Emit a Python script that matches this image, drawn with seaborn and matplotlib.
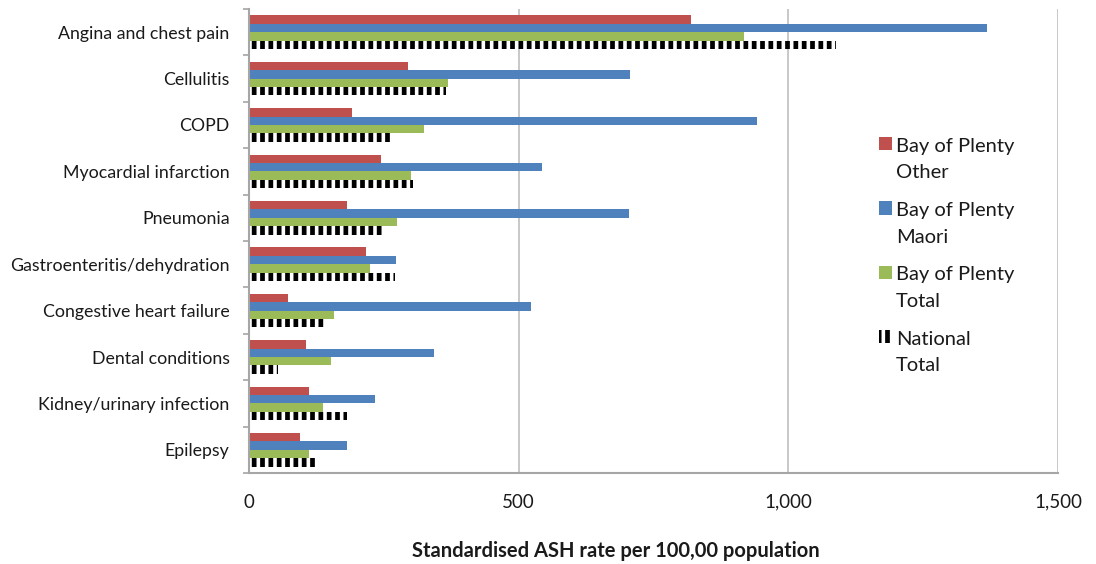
import matplotlib
matplotlib.use("Agg")
import matplotlib.pyplot as plt
from matplotlib.patches import Patch, Rectangle
from matplotlib.legend_handler import HandlerPatch
from matplotlib.ticker import FuncFormatter
import numpy as np
import pandas as pd
import seaborn as sns

# Ambulatory-sensitive hospitalisation rates by condition
conditions = [
    "Angina and chest pain", "Cellulitis", "COPD", "Myocardial infarction",
    "Pneumonia", "Gastroenteritis/dehydration", "Congestive heart failure",
    "Dental conditions", "Kidney/urinary infection", "Epilepsy",
]
bop_other = [819, 295, 191, 245, 181, 217, 73, 106, 112, 94]
bop_maori = [1368, 707, 942, 544, 705, 273, 523, 343, 233, 182]
bop_total = [918, 369, 325, 300, 275, 224, 157, 152, 137, 111]
national_total = [1088, 365, 267, 305, 247, 271, 142, 53, 181, 124]

series_names = ["Bay of Plenty Other", "Bay of Plenty Maori",
                "Bay of Plenty Total", "National Total"]
legend_labels = ["Bay of Plenty\nOther", "Bay of Plenty\nMaori",
                 "Bay of Plenty\nTotal", "National\nTotal"]
x_ticks = [0, 500, 1000, 1500]

df = pd.DataFrame({
    "condition": conditions * 4,
    "series": np.repeat(series_names, len(conditions)),
    "rate": bop_other + bop_maori + bop_total + national_total,
})

sns.set_theme(style="white")
plt.rcParams["font.family"] = ["Lato", "DejaVu Sans"]
plt.rcParams["hatch.linewidth"] = 3.4
plt.rcParams["hatch.color"] = "black"

colors = ["#C0504D", "#4F81BD", "#9BBB59", "#FFFFFF"]
text_color = "#1a1a1a"

fig = plt.figure(figsize=(10.96, 5.64), dpi=100)
ax = fig.add_axes([249 / 1096, 1 - 473 / 564, (1058 - 249) / 1096, (473 - 9) / 564])

sns.barplot(data=df, y="condition", x="rate", hue="series",
            hue_order=series_names, order=conditions, palette=colors,
            orient="h", width=0.72, gap=0.0, linewidth=0, saturation=1,
            legend=False, ax=ax)

# National total drawn as black vertical dashes
for bar in ax.containers[3]:
    bar.set_facecolor("white")
    bar.set_edgecolor("black")
    bar.set_hatch("||")
    bar.set_linewidth(0)

ax.set_xlim(0, 1500)
ax.set_ylim(len(conditions) - 0.5, -0.5)
ax.set_xticks(x_ticks)
ax.xaxis.set_major_formatter(FuncFormatter(lambda v, p: f"{int(v):,}"))
ax.grid(axis="x", color="#BFBFBF", linewidth=1.2)
ax.set_axisbelow(True)

for side in ["top", "right"]:
    ax.spines[side].set_visible(False)
for side in ["left", "bottom"]:
    ax.spines[side].set_color("#A6A6A6")
    ax.spines[side].set_linewidth(1.5)

ax.set_yticks(np.arange(-0.5, len(conditions), 1.0), minor=True)
ax.tick_params(axis="y", which="minor", length=4, width=1.2, color="#A6A6A6", left=True)
ax.tick_params(axis="y", which="major", length=0, pad=14, labelsize=12.8, labelcolor=text_color)
ax.tick_params(axis="x", which="both", length=0, pad=15, labelsize=13.5, labelcolor=text_color)

ax.set_ylabel("")
ax.set_xlabel("Standardised ASH rate per 100,00 population", fontsize=14.5,
              fontweight="bold", color=text_color)
ax.xaxis.set_label_coords((616 - 249) / 809, -(551 - 473) / 464, transform=ax.transAxes)
ax.xaxis.label.set_va("center")


def first_line_patch(legend, orig_handle, xdescent, ydescent, width, height, fontsize):
    # keep the key square beside the first line of a two-line label
    return Rectangle(xy=(-xdescent, -ydescent + 0.78 * fontsize), width=width, height=height)


handles = [Patch(facecolor=c, edgecolor="none") for c in colors[:3]]
handles.append(Patch(facecolor="white", edgecolor="black", hatch="||", linewidth=0))
leg = fig.legend(handles, legend_labels, loc="center left",
                 bbox_to_anchor=(869 / 1096, 1 - 256 / 564), frameon=False,
                 fontsize=14.5, handlelength=0.65, handleheight=0.65,
                 handletextpad=0.2, labelspacing=1.02, borderpad=0,
                 labelcolor=text_color,
                 handler_map={Patch: HandlerPatch(patch_func=first_line_patch)})
for t in leg.get_texts():
    t.set_linespacing(1.7)

fig.savefig("out.png", dpi=100)
